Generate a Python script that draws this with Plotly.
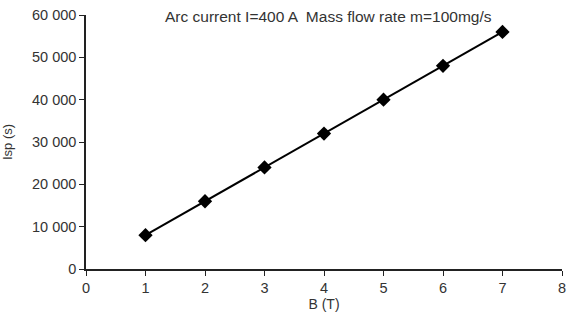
import plotly.graph_objects as go

b_field = [1, 2, 3, 4, 5, 6, 7]
isp = [8000, 16000, 24000, 32000, 40000, 48000, 56000]
y_ticks = [0, 10000, 20000, 30000, 40000, 50000, 60000]
y_tick_labels = ["0", "10 000", "20 000", "30 000", "40 000", "50 000", "60 000"]
x_ticks = [0, 1, 2, 3, 4, 5, 6, 7, 8]

fig = go.Figure()
fig.add_trace(go.Scatter(
    x=b_field, y=isp, mode="lines+markers",
    line=dict(color="black", width=2),
    marker=dict(symbol="diamond", size=11, color="black"),
    showlegend=False,
    cliponaxis=False,
))

font = dict(family="Arial, Liberation Sans", size=14.5, color="#333333")
fig.update_layout(
    width=568, height=320,
    margin=dict(l=86, r=6, t=15, b=51),
    paper_bgcolor="white", plot_bgcolor="white",
    font=font,
    xaxis=dict(range=[0, 8], tickvals=x_ticks, showgrid=False, zeroline=False,
               showline=True, linecolor="#222222", linewidth=1.5,
               ticks="outside", ticklen=5, tickcolor="#222222", automargin=False,
               ticklabeloverflow="allow",
               title=dict(text="B (T)", standoff=4, font=dict(size=14)), tickfont=font),
    yaxis=dict(range=[0, 60000], tickvals=y_ticks, ticktext=y_tick_labels,
               showgrid=False, zeroline=False,
               showline=True, linecolor="#222222", linewidth=1.5,
               ticks="outside", ticklen=5, tickcolor="#222222", automargin=False,
               ticklabeloverflow="allow",
               title=dict(text="Isp (s)", standoff=16, font=dict(size=13)), tickfont=font),
    annotations=[dict(text="Arc current I=400 A  Mass flow rate m=100mg/s",
                      xref="paper", yref="paper", x=0.51, y=1,
                      xanchor="center", yanchor="middle", yshift=-1,
                      showarrow=False, font=dict(size=15.5))],
)

fig.write_html("out.html", config={"displayModeBar": False},
               post_script="document.body.style.margin='0';document.body.style.overflow='hidden';")
